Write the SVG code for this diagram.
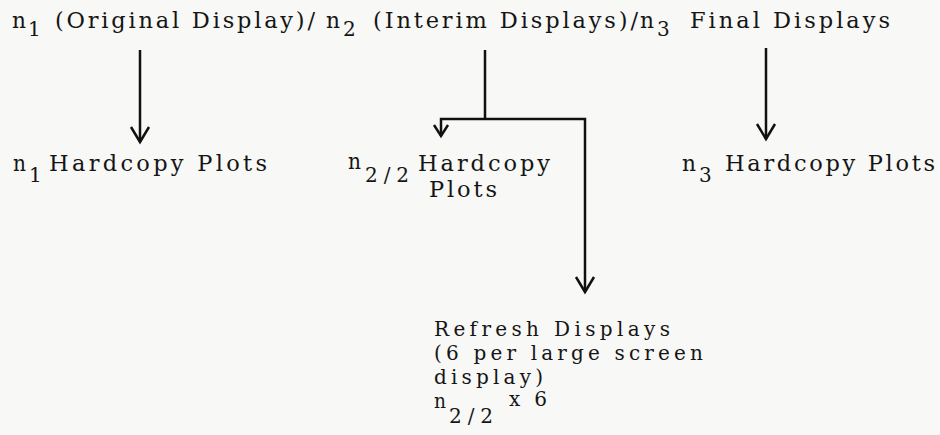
<svg xmlns="http://www.w3.org/2000/svg" width="940" height="435" viewBox="0 0 940 435">
<defs>
<style>
text{font-family:"DejaVu Serif","Liberation Serif",serif;font-size:22.5px;fill:#151515}
.sub{font-size:20px}
.rf{font-size:20px}
.ln{stroke:#111;stroke-width:2.5;fill:none}
</style>
<marker id="ah" markerUnits="userSpaceOnUse" markerWidth="30" markerHeight="30" viewBox="-20 -15 30 30" refX="0" refY="0" orient="auto" overflow="visible">
<path d="M-15,-9 L0,0 L-15,9" fill="none" stroke="#111" stroke-width="2.5"/>
</marker>
<marker id="ahs" markerUnits="userSpaceOnUse" markerWidth="20" markerHeight="20" viewBox="-15 -10 20 20" refX="0" refY="0" orient="auto" overflow="visible">
<path d="M-11,-7 L0,0 L-11,7" fill="none" stroke="#111" stroke-width="2.5"/>
</marker>
</defs>
<rect width="940" height="435" fill="#f8f8f6"/>
<g id="source">
<text x="12" y="28" textLength="14" lengthAdjust="spacingAndGlyphs">n</text>
<text class="sub" x="28" y="36">1</text>
<text x="55" y="28" textLength="260" lengthAdjust="spacing">(Original Display)/</text>
<text x="326" y="28" textLength="14" lengthAdjust="spacingAndGlyphs">n</text>
<text class="sub" x="343" y="36">2</text>
<text x="373" y="28" textLength="265" lengthAdjust="spacing">(Interim Displays)/</text>
<text x="640" y="28" textLength="14" lengthAdjust="spacingAndGlyphs">n</text>
<text class="sub" x="657" y="36">3</text>
<text x="690" y="28" textLength="200" lengthAdjust="spacing">Final Displays</text>
</g>
<g id="n1-hardcopy">
<text x="13" y="171" textLength="13" lengthAdjust="spacingAndGlyphs">n</text>
<text class="sub" x="29" y="182">1</text>
<text x="49" y="171" textLength="218" lengthAdjust="spacing">Hardcopy Plots</text>
</g>
<g id="n22-hardcopy">
<text x="348" y="169" textLength="13" lengthAdjust="spacingAndGlyphs">n</text>
<text class="sub" x="365" y="182" textLength="44" lengthAdjust="spacing">2/2</text>
<text x="418" y="171" textLength="132" lengthAdjust="spacing">Hardcopy</text>
<text x="429" y="197" textLength="68" lengthAdjust="spacing">Plots</text>
</g>
<g id="n3-hardcopy">
<text x="682" y="171" textLength="14" lengthAdjust="spacingAndGlyphs">n</text>
<text class="sub" x="699" y="182">3</text>
<text x="725" y="171" textLength="210" lengthAdjust="spacing">Hardcopy Plots</text>
</g>
<g id="refresh">
<text class="rf" x="434" y="336" textLength="236" lengthAdjust="spacing">Refresh Displays</text>
<text class="rf" x="434" y="360" textLength="269" lengthAdjust="spacing">(6 per large screen</text>
<text class="rf" x="434" y="384" textLength="109" lengthAdjust="spacing">display)</text>
<text class="rf" x="434" y="408" textLength="12" lengthAdjust="spacingAndGlyphs">n</text>
<text class="sub" x="449" y="423" textLength="44" lengthAdjust="spacing">2/2</text>
<text class="sub" x="509" y="406" textLength="38" lengthAdjust="spacing">x 6</text>
</g>
<g id="connectors">
<line class="ln" x1="140" y1="50" x2="140" y2="142" marker-end="url(#ah)"/>
<line class="ln" x1="766" y1="48" x2="766" y2="139" marker-end="url(#ah)"/>
<polyline class="ln" points="485,50 485,119"/>
<polyline class="ln" points="485,119 441,119 441,136" marker-end="url(#ahs)"/>
<polyline class="ln" points="485,119 585,119 585,292" marker-end="url(#ah)"/>
</g>
</svg>
